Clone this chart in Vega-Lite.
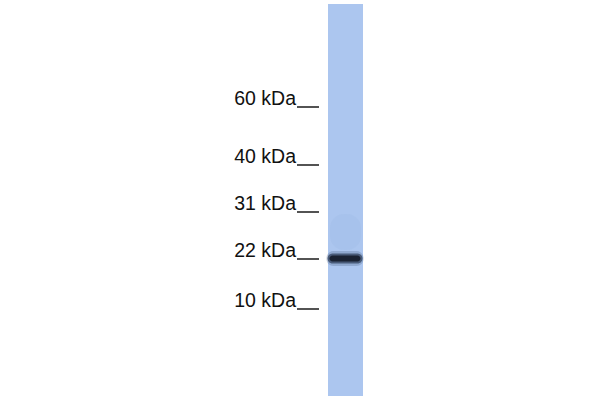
{
  "$schema": "https://vega.github.io/schema/vega-lite/v6.json",
  "width": 600,
  "height": 400,
  "autosize": {"type": "fit", "contains": "padding"},
  "padding": 0,
  "background": "white",
  "datasets": {
    "markers": [
      {"label": "60 kDa", "pos": 107},
      {"label": "40 kDa", "pos": 165},
      {"label": "31 kDa", "pos": 212},
      {"label": "22 kDa", "pos": 259},
      {"label": "10 kDa", "pos": 309}
    ],
    "bands": [
      {"lane": "sample", "pos": 258.5}
    ]
  },
  "layer": [
    {
      "data": {"values": [{"lane": "sample"}]},
      "mark": {"type": "rect", "color": "#acc6ef"},
      "encoding": {
        "x": {"datum": 328, "type": "quantitative", "scale": {"domain": [0, 600], "nice": false, "zero": false}, "axis": null},
        "x2": {"datum": 363},
        "y": {"datum": 4, "type": "quantitative", "scale": {"domain": [0, 400], "reverse": true, "nice": false, "zero": false}, "axis": null},
        "y2": {"datum": 396}
      }
    },
    {
      "data": {"values": [{"lane": "sample"}]},
      "mark": {"type": "rect", "color": "#8ea8d6", "opacity": 0.13, "cornerRadius": 14},
      "encoding": {
        "x": {"datum": 330, "type": "quantitative"},
        "x2": {"datum": 361},
        "y": {"datum": 214, "type": "quantitative"},
        "y2": {"datum": 250}
      }
    },
    {
      "data": {"name": "bands"},
      "mark": {"type": "rect", "color": "#5d7399", "opacity": 0.35, "width": 37, "height": 15, "cornerRadius": 7},
      "encoding": {
        "x": {"datum": 345, "type": "quantitative"},
        "y": {"field": "pos", "type": "quantitative"}
      }
    },
    {
      "data": {"name": "bands"},
      "mark": {"type": "rect", "color": "#3d4d6a", "opacity": 0.85, "width": 35, "height": 10, "cornerRadius": 5},
      "encoding": {
        "x": {"datum": 345, "type": "quantitative"},
        "y": {"field": "pos", "type": "quantitative"}
      }
    },
    {
      "data": {"name": "bands"},
      "mark": {"type": "rect", "color": "#1a2232", "width": 31, "height": 6, "cornerRadius": 3},
      "encoding": {
        "x": {"datum": 345, "type": "quantitative"},
        "y": {"field": "pos", "type": "quantitative"}
      }
    },
    {
      "data": {"name": "markers"},
      "mark": {"type": "rule", "color": "#1a1a1a", "strokeWidth": 1.5},
      "encoding": {
        "x": {"datum": 297, "type": "quantitative"},
        "x2": {"datum": 319},
        "y": {"field": "pos", "type": "quantitative"}
      }
    },
    {
      "data": {"name": "markers"},
      "mark": {"type": "text", "align": "right", "baseline": "alphabetic", "dy": -2.5, "font": "Liberation Sans", "fontSize": 19.5, "color": "#111111"},
      "encoding": {
        "x": {"datum": 296, "type": "quantitative"},
        "y": {"field": "pos", "type": "quantitative"},
        "text": {"field": "label"}
      }
    }
  ],
  "config": {"view": {"stroke": null}}
}
